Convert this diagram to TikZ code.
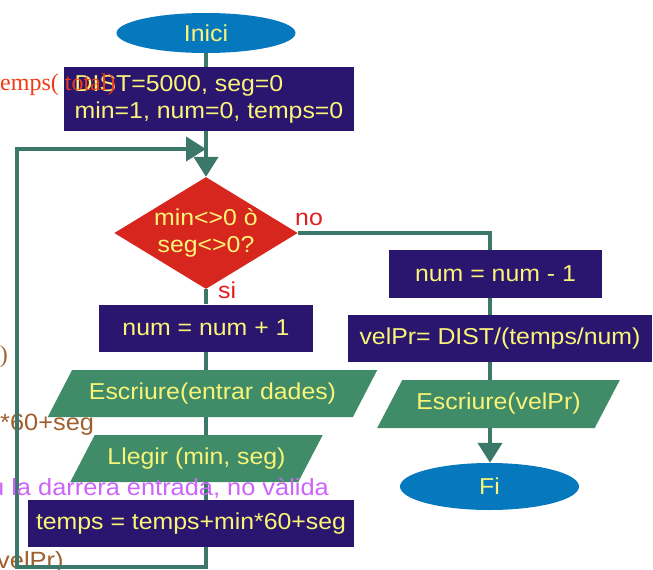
\documentclass[tikz,border=0pt]{standalone}
\usepackage{fontspec}
\setmainfont{Liberation Sans}[FakeStretch=1.08]
\newfontfamily\serifrm{Liberation Serif}
\usetikzlibrary{shapes.geometric,arrows.meta}
\definecolor{navy}{RGB}{42,22,110}
\definecolor{ytext}{RGB}{250,244,120}
\definecolor{iog}{RGB}{64,140,104}
\definecolor{lineg}{RGB}{60,120,105}
\definecolor{dred}{RGB}{215,38,30}
\definecolor{tblue}{RGB}{5,120,190}
\definecolor{lred}{RGB}{225,30,30}
\definecolor{tred}{RGB}{240,60,20}
\definecolor{brownt}{RGB}{160,95,45}
\definecolor{violett}{RGB}{205,100,250}
\begin{document}
\begin{tikzpicture}[x=1pt,y=-1pt,
  txt/.style={font=\fontsize{23}{27}\selectfont, text=ytext, inner sep=0pt},
  box/.style={txt, rectangle, fill=navy},
  io/.style={txt, trapezium, trapezium left angle=45, trapezium right angle=135,
             trapezium stretches=true, fill=iog},
  term/.style={txt, ellipse, fill=tblue},
  decis/.style={txt, diamond, fill=dred, aspect=1.64, align=center},
  flow/.style={draw=lineg, line width=4pt},
  arr/.style={flow, -{Triangle[width=24pt,length=20pt]}},
  lbl/.style={font=\fontsize{23}{27}\selectfont, text=lred, inner sep=0pt, anchor=base west},
  stray/.style={inner sep=0pt, font=\fontsize{23.5}{28}\selectfont},
]
\useasboundingbox (0,0) rectangle (653,570);
\clip (0,0) rectangle (653,570);

% stray text fragments drawn beneath the chart
\node[stray, anchor=base east, text=brownt, font=\serifrm\fontsize{24}{28}\selectfont] (sp) at (8,362) {)};
\node[stray, anchor=base west, text=brownt] (s60) at (0,430) {*60+seg};
\node[stray, anchor=base west, text=brownt] (svel) at (-3,568) {velPr)};

% nodes
\node[term, minimum width=179pt, minimum height=40pt] (inici) at (206,33) {Inici};
\node[box, minimum width=290pt, minimum height=64pt, align=left] (init) at (209,99) {DIST=5000, seg=0\\min=1, num=0, temps=0};
\node[decis, minimum width=175pt, minimum height=107pt] (cond) at (206,233) {min<>0 ò\\seg<>0?};
\node[box, minimum width=214pt, minimum height=47pt] (nump) at (206,328) {num = num + 1};
\node[io, minimum width=331pt, minimum height=47pt] (esc1) at (212.5,393.5) {Escriure(entrar dades)};
\node[io, minimum width=253pt, minimum height=47pt] (lleg) at (196.5,458.5) {Llegir (min, seg)};
\node[box, minimum width=326pt, minimum height=47pt] (temps) at (191,523.5) {temps = temps+min*60+seg};
\node[box, minimum width=213pt, minimum height=48pt] (numm) at (495.5,274) {num = num - 1};
\node[box, minimum width=304pt, minimum height=47pt] (velpr) at (500,338.5) {velPr= DIST/(temps/num)};
\node[io, minimum width=243pt, minimum height=48pt] (esc2) at (498.5,404) {Escriure(velPr)};
\node[term, minimum width=179pt, minimum height=47pt] (fi) at (489.5,486.5) {Fi};

% labels
\node[lbl] (no) at (295,225) {no};
\node[lbl] (si) at (218,298) {si};

% connectors
\coordinate (rc) at (490,0);
\coordinate (lb) at (17,567);
\coordinate (lt) at (17,149);
\coordinate (bb) at (206,567);
\draw[flow] (inici.south) -- (inici.south |- init.north);
\draw[arr] (cond.north |- init.south) -- (cond.north);
\draw[arr] (cond |- temps.south) -- (bb) -- (lb) -- (lt) -- (lt -| cond);
\draw[flow] (cond.south) -- (cond.south |- nump.north);
\draw[flow] (cond |- nump.south) -- (cond |- esc1.north);
\draw[flow] (cond |- esc1.south) -- (cond |- lleg.north);
\draw[flow] (cond |- lleg.south) -- (cond |- temps.north);
\draw[flow] (cond.east) -| (rc |- numm.north);
\draw[flow] (rc |- numm.south) -- (rc |- velpr.north);
\draw[flow] (rc |- velpr.south) -- (rc |- esc2.north);
\draw[arr] (rc |- esc2.south) -- (rc |- fi.north);

% stray text fragments drawn over the chart
\node[stray, anchor=base west, text=tred, font=\serifrm\fontsize{24}{28}\selectfont] (stot) at (0,90) {emps( total)};
\node[stray, anchor=base west, text=violett] (sdar) at (-10,495) {u la darrera entrada, no vàlida};
\end{tikzpicture}
\end{document}
